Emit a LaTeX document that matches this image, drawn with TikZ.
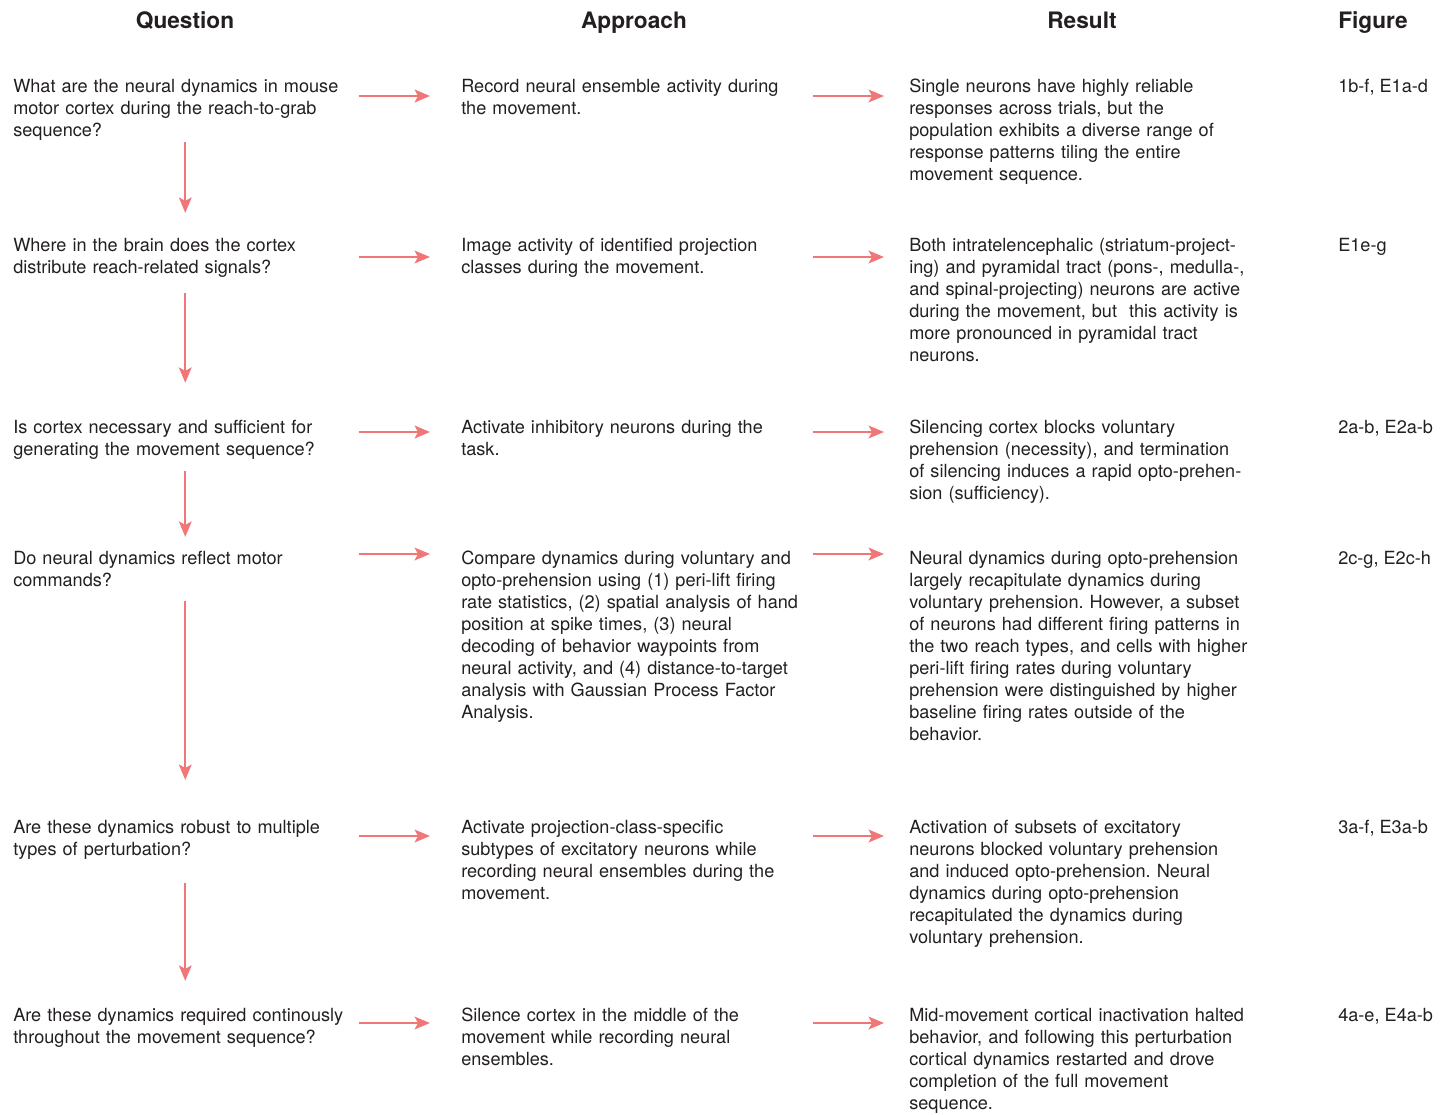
\documentclass[tikz,border=0pt]{standalone}
\usepackage{fontspec}
\setmainfont{TeX Gyre Heros}
\usepackage{tikz}
\usetikzlibrary{arrows.meta}
\definecolor{arrowred}{RGB}{240,118,120}
\definecolor{cellgray}{RGB}{35,31,32}
\tikzset{cell text/.style={anchor=base west,align=left,inner sep=0pt,text=cellgray,
		font=\fontsize{13.6}{16.5}\selectfont\frenchspacing},
}

\begin{document}
\begin{tikzpicture}[x=0.75pt,y=-0.75pt,>={Stealth[length=11.5pt,width=9.5pt,inset=2.5pt]},
		head/.style={anchor=base,inner sep=0pt,text=cellgray,font=\fontsize{17}{20}\selectfont\bfseries},
		question/.style={cell text,text width=258pt},
		approach/.style={cell text,text width=262.5pt},
		result/.style={cell text,text width=270pt},
		red arrow/.style={->,draw=arrowred,line width=1.7pt},
		qa arrow/.style={red arrow,shorten <=0.75pt,shorten >=23.25pt},
		ar arrow/.style={red arrow,shorten <=0.75pt,shorten >=18.75pt}]
		
		\useasboundingbox (0,0) rectangle (1451,1114);
		
		\node[head] (hq) at (185,28) {Question};
		\node[head] (ha) at (634,28) {Approach};
		\node[head] (hr) at (1082,28) {Result};
		\node[head] (hf) at (1373,28) {Figure};
		
		% row 1
		\node[question] (q1) at (13,92) {What are the neural dynamics in mouse\\motor cortex during the reach-to-grab\\sequence?};
		\node[approach] (a1) at (461,92) {Record neural ensemble activity during\\the movement.};
		\node[result] (r1) at (909,92) {Single neurons have highly reliable\\responses across trials, but the\\population exhibits a diverse range of\\response patterns tiling the entire\\movement sequence.};
		\node[cell text] (f1) at (1338,92) {1b-f, E1a-d};
		
		% row 2
		\node[question] (q2) at (13,251) {Where in the brain does the cortex\\distribute reach-related signals?};
		\node[approach] (a2) at (461,251) {Image activity of identified projection\\classes during the movement.};
		\node[result] (r2) at (909,251) {Both intratelencephalic (striatum-project-\\ing) and pyramidal tract (pons-, medulla-,\\and spinal-projecting) neurons are active\\during the movement, but\ \ this activity is\\more pronounced in pyramidal tract\\neurons.};
		\node[cell text] (f2) at (1338,251) {E1e-g};
		
		% row 3
		\node[question] (q3) at (13,433) {Is cortex necessary and sufficient for\\generating the movement sequence?};
		\node[approach] (a3) at (461,433) {Activate inhibitory neurons during the\\task.};
		\node[result] (r3) at (909,433) {Silencing cortex blocks voluntary\\prehension (necessity), and termination\\of silencing induces a rapid opto-prehen-\\sion (sufficiency).};
		\node[cell text] (f3) at (1338,433) {2a-b, E2a-b};
		
		% row 4
		\node[question] (q4) at (13,564) {Do neural dynamics reflect motor\\commands?};
		\node[approach] (a4) at (461,564) {Compare dynamics during voluntary and\\opto-prehension using (1) peri-lift firing\\rate statistics, (2) spatial analysis of hand\\position at spike times, (3) neural\\decoding of behavior waypoints from\\neural activity, and (4) distance-to-target\\analysis with Gaussian Process Factor\\Analysis.};
		\node[result] (r4) at (909,564) {Neural dynamics during opto-prehension\\largely recapitulate dynamics during\\voluntary prehension. However, a subset\\of neurons had different firing patterns in\\the two reach types, and cells with higher\\peri-lift firing rates during voluntary\\prehension were distinguished by higher\\baseline firing rates outside of the\\behavior.};
		\node[cell text] (f4) at (1338,564) {2c-g, E2c-h};
		
		% row 5
		\node[question] (q5) at (13,833) {Are these dynamics robust to multiple\\types of perturbation?};
		\node[approach] (a5) at (461,833) {Activate projection-class-specific\\subtypes of excitatory neurons while\\recording neural ensembles during the\\movement.};
		\node[result] (r5) at (909,833) {Activation of subsets of excitatory\\neurons blocked voluntary prehension\\and induced opto-prehension. Neural\\dynamics during opto-prehension\\recapitulated the dynamics during\\voluntary prehension.};
		\node[cell text] (f5) at (1338,833) {3a-f, E3a-b};
		
		% row 6
		\node[question] (q6) at (13,1021) {Are these dynamics required continously\\throughout the movement sequence?};
		\node[approach] (a6) at (461,1021) {Silence cortex in the middle of the\\movement while recording neural\\ensembles.};
		\node[result] (r6) at (909,1021) {Mid-movement cortical inactivation halted\\behavior, and following this perturbation\\cortical dynamics restarted and drove\\completion of the full movement\\sequence.};
		\node[cell text] (f6) at (1338,1021) {4a-e, E4a-b};
		
		% arrow heights
		\coordinate (y1) at (0,96);
		\coordinate (y2) at (0,257);
		\coordinate (y3) at (0,432);
		\coordinate (y4) at (0,554);
		\coordinate (y5) at (0,836);
		\coordinate (y6) at (0,1023);
		
		\foreach \i in {1,...,6}{
			\draw[qa arrow] (q\i.east |- y\i) -- (a\i.west |- y\i);
			\draw[ar arrow] (a\i.east |- y\i) -- (r\i.west |- y\i);
		}
		
		\draw[red arrow,shorten <=1.5pt,shorten >=18.5pt] (q1.south) -- (q2.north);
		\draw[red arrow,shorten <=12pt,shorten >=27.5pt] (q2.south) -- (q3.north);
		\draw[red arrow,shorten <=9pt,shorten >=10.2pt] (q3.south) -- (q4.north);
		\draw[red arrow,shorten <=10.5pt,shorten >=29.7pt] (q4.south) -- (q5.north);
		\draw[red arrow,shorten <=18pt,shorten >=20pt] (q5.south) -- (q6.north);
		\end{tikzpicture}
\end{document}
